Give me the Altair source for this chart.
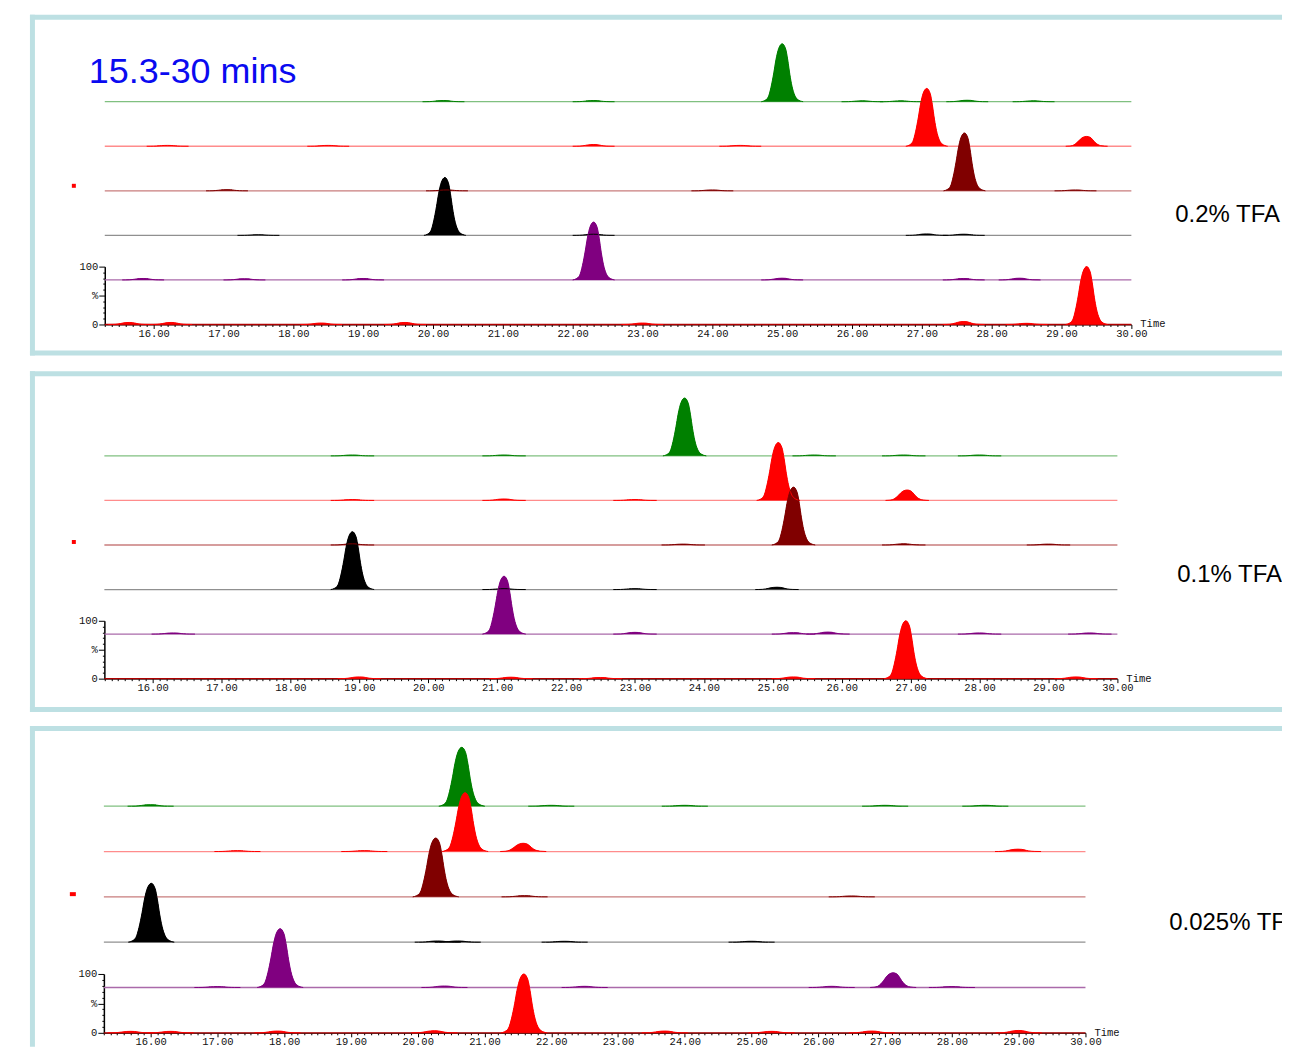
import altair as alt
import pandas as pd

# --- data ----------------------------------------------------------------
TRACE_NAMES = ["t0", "t1", "t2", "t3", "t4", "t5"]
TRACE_COLORS = ["#008000", "#ff0000", "#800000", "#000000", "#800080", "#ff0000"]
BASE_COLORS = ["#80c080", "#ff8c8c", "#c87c7c", "#909090", "#aa6aaa", "#b00000"]
OFFSETS = [385, 308, 231, 154, 77, 0]   # stacking offset of each trace, in %

# shape of one peak (minutes from apex, fraction of apex height)
PROFILE_T = [-0.30, -0.25, -0.20, -0.16, -0.12, -0.09, -0.05, 0.0,
             0.05, 0.08, 0.11, 0.14, 0.18, 0.22, 0.30]
PROFILE_H = [0.0, 0.02, 0.08, 0.25, 0.50, 0.72, 0.92, 1.0,
             0.91, 0.72, 0.47, 0.27, 0.11, 0.04, 0.0]

# 0.2% TFA
P1_TRACE = [0, 0, 0, 0, 0, 0, 0,
            1, 1, 1, 1, 1, 1,
            2, 2, 2, 2, 2,
            3, 3, 3, 3, 3,
            4, 4, 4, 4, 4, 4, 4,
            5, 5, 5, 5, 5, 5, 5, 5]
P1_RT = [25.00, 20.15, 22.30, 26.15, 26.70, 27.65, 28.60,
         27.07, 29.36, 22.30, 16.20, 18.50, 24.40,
         27.61, 17.05, 20.20, 24.00, 29.20,
         20.17, 22.30, 27.07, 27.60, 17.50,
         22.30, 15.85, 17.30, 19.00, 25.00, 27.60, 28.40,
         29.36, 15.65, 16.25, 18.40, 19.60, 23.00, 27.60, 28.50]
P1_HT = [100, 2, 2, 1.5, 1.5, 2.5, 1.5,
         100, 17, 3, 1.5, 1.5, 1.5,
         100, 2, 1.5, 1.5, 1.5,
         100, 2, 2.5, 2, 1,
         100, 2.5, 2, 2.5, 3, 2.5, 3,
         100, 3.5, 3.5, 2.5, 3.5, 2.5, 5, 2]

# 0.1% TFA
P2_TRACE = [0, 0, 0, 0, 0, 0,
            1, 1, 1, 1, 1,
            2, 2, 2, 2, 2,
            3, 3, 3, 3,
            4, 4, 4, 4, 4, 4, 4,
            5, 5, 5, 5, 5, 5]
P2_RT = [23.72, 18.90, 21.10, 25.60, 26.90, 28.00,
         25.08, 26.95, 21.10, 18.90, 23.00,
         25.30, 18.90, 23.70, 26.90, 29.00,
         18.90, 25.06, 21.10, 23.00,
         21.10, 16.30, 23.00, 25.30, 25.80, 28.00, 29.60,
         26.93, 19.00, 21.20, 22.50, 25.30, 29.40]
P2_HT = [100, 1.5, 1.5, 1.5, 1.5, 1.5,
         100, 18, 2.5, 1.5, 1.5,
         100, 2, 1.5, 2, 1.5,
         100, 4, 1.5, 1.5,
         100, 2, 3, 2.5, 3.5, 2, 2,
         100, 3, 2.5, 2, 3, 3]

# 0.025% TFA
P3_TRACE = [0, 0, 0, 0, 0, 0,
            1, 1, 1, 1, 1,
            2, 2, 2,
            3, 3, 3, 3, 3,
            4, 4, 4, 4, 4, 4, 4,
            5, 5, 5, 5, 5, 5, 5, 5, 5]
P3_RT = [20.66, 16.00, 22.00, 24.00, 27.00, 28.50,
         20.71, 21.58, 28.99, 17.30, 19.20,
         20.27, 21.60, 26.50,
         16.01, 20.30, 20.60, 22.20, 25.00,
         17.94, 27.12, 17.00, 20.40, 22.50, 26.20, 28.00,
         21.59, 15.70, 16.30, 17.90, 20.25, 23.70, 25.30, 26.80, 29.00]
P3_HT = [100, 2.5, 1.5, 1.5, 1.5, 1.5,
         100, 14, 4, 1.5, 1.5,
         100, 2, 1.5,
         100, 2, 2, 1.5, 1.5,
         100, 25, 1.5, 2.5, 2, 2, 1.5,
         100, 2.5, 2.5, 3, 3.5, 3, 2.5, 3, 4]

PEAK_WIDTH = [1.0, 1.05, 1.15]
LABELS = ["0.2% TFA", "0.1% TFA", "0.025% TFA"]
X_TICKS = [round(15.3 + 0.1 * i, 1) for i in range(148)]
Y_TICKS = [0, 10, 20, 30, 40, 50, 60, 70, 80, 90, 100]

# --- layout (pixels inside each panel) -----------------------------------
W = 1277
PANEL_H = [356, 356, 328]
X_RANGE = [[97, 1126], [96.6, 1112], [96.1, 1080]]
Y_RANGE = [[316, 258], [315, 257], [314, 255]]
BOX = [(24.5, 8, 344.5), (24.5, 9.5, 346), (24.5, 9, None)]
LABEL_POS = [(1170, 213), (1172, 218), (1164, 211)]
SQUARE = [(64, 175, 4, 4), (64, 176, 4, 4), (62, 173, 6, 4)]
BORDER = "#bde0e3"
BIG_FONT = "Liberation Sans, Arial, sans-serif"
SMALL_FONT = "Liberation Mono, DejaVu Sans Mono, monospace"


def peak_table(traces, rts, hts, width):
    rows = []
    for pid, (tr, rt, ht) in enumerate(zip(traces, rts, hts)):
        for dt, frac in zip(PROFILE_T, PROFILE_H):
            rows.append({"pid": pid, "trace": TRACE_NAMES[tr],
                         "t": rt + dt * width,
                         "v": OFFSETS[tr] + ht * frac,
                         "base": OFFSETS[tr]})
    return pd.DataFrame(rows)


def panel(k, traces, rts, hts):
    H = PANEL_H[k]
    xscale = alt.Scale(domain=[15.3, 30], range=X_RANGE[k], nice=False, zero=False)
    yscale = alt.Scale(domain=[0, 100], range=Y_RANGE[k], nice=False, zero=False)
    is_int = "abs(datum.value - round(datum.value)) < 0.01"
    xaxis = alt.Axis(
        values=X_TICKS, title=None, grid=False, labelFlush=False, labelOverlap=False,
        labelExpr=f"{is_int} ? format(datum.value, '.2f') : ''",
        tickSize={"condition": {"test": is_int, "value": 4}, "value": 2},
        offset=-(H - Y_RANGE[k][0]), labelPadding=0,
        labelFont=SMALL_FONT, labelFontSize=10.5, labelColor="#111",
        domainColor="#000", tickColor="#000", domainWidth=1, tickWidth=1,
    )
    y_major = "datum.value == 0 || datum.value == 50 || datum.value == 100"
    yaxis = alt.Axis(
        values=Y_TICKS, title=None, grid=False, labelOverlap=False,
        labelExpr="datum.value == 0 ? '0' : datum.value == 50 ? '%' : datum.value == 100 ? '100' : ''",
        tickSize={"condition": {"test": y_major, "value": 6}, "value": 2},
        offset=-X_RANGE[k][0], labelPadding=1,
        labelFont=SMALL_FONT, labelFontSize=10.5, labelColor="#111",
        domainColor="#000", tickColor="#000", domainWidth=1.5, tickWidth=1,
    )

    peaks = peak_table(traces, rts, hts, PEAK_WIDTH[k])
    bases = pd.DataFrame({"trace": TRACE_NAMES, "base": OFFSETS})

    area = alt.Chart(peaks).mark_area(interpolate="monotone").encode(
        x=alt.X("t:Q", scale=xscale, axis=xaxis),
        y=alt.Y("v:Q", scale=yscale, axis=yaxis),
        y2="base:Q",
        fill=alt.Fill("trace:N", scale=alt.Scale(domain=TRACE_NAMES, range=TRACE_COLORS),
                      legend=None),
        detail="pid:N",
    )
    outline = alt.Chart(peaks).mark_line(interpolate="monotone", strokeWidth=1).encode(
        x=alt.X("t:Q", scale=xscale, axis=xaxis),
        y=alt.Y("v:Q", scale=yscale, axis=yaxis),
        color=alt.Color("trace:N", scale=alt.Scale(domain=TRACE_NAMES, range=TRACE_COLORS),
                        legend=None),
        detail="pid:N",
    )
    baseline = alt.Chart(bases).mark_rule(strokeWidth=1.3).encode(
        x=alt.X(datum=15.3, scale=xscale, axis=xaxis),
        x2=alt.X2(datum=30),
        y=alt.Y("base:Q", scale=yscale, axis=yaxis),
        stroke=alt.Stroke("trace:N", scale=alt.Scale(domain=TRACE_NAMES, range=BASE_COLORS),
                          legend=None),
    )
    time_lbl = alt.Chart().mark_text(
        text="Time", align="left", baseline="middle", dx=9,
        font=SMALL_FONT, fontSize=10.5, color="#111",
    ).encode(x=alt.X(datum=30, scale=xscale, axis=xaxis),
             y=alt.Y(datum=0, scale=yscale, axis=yaxis))

    left, top, bottom = BOX[k]
    box = [
        alt.Chart().mark_rule(color=BORDER, strokeWidth=5).encode(
            x=alt.value(left - 2.5), x2=alt.value(W), y=alt.value(top)),
        alt.Chart().mark_rule(color=BORDER, strokeWidth=5).encode(
            x=alt.value(left), y=alt.value(top - 2.5),
            y2=alt.value(H if bottom is None else bottom + 2.5)),
    ]
    if bottom is not None:
        box.append(alt.Chart().mark_rule(color=BORDER, strokeWidth=5).encode(
            x=alt.value(left - 2.5), x2=alt.value(W), y=alt.value(bottom)))

    lx, ly = LABEL_POS[k]
    label = alt.Chart().mark_text(
        text=LABELS[k], align="left", baseline="alphabetic",
        font=BIG_FONT, fontSize=24, color="#000", clip=True,
    ).encode(x=alt.value(lx), y=alt.value(ly))

    sx, sy, sw, sh = SQUARE[k]
    square = alt.Chart().mark_rect(color="#ff0000").encode(
        x=alt.value(sx), x2=alt.value(sx + sw), y=alt.value(sy), y2=alt.value(sy + sh))

    layers = [area] + box + [baseline, area, outline, time_lbl, label, square]
    if k == 0:
        layers.append(alt.Chart().mark_text(
            text="15.3-30 mins", align="left", baseline="alphabetic",
            font=BIG_FONT, fontSize=36, color="#0a0af0",
        ).encode(x=alt.value(81), y=alt.value(74)))

    return alt.layer(*layers).properties(width=W, height=H)


p1 = panel(0, P1_TRACE, P1_RT, P1_HT)
p2 = panel(1, P2_TRACE, P2_RT, P2_HT)
p3 = panel(2, P3_TRACE, P3_RT, P3_HT)

chart = alt.vconcat(p1, p2, p3, spacing=0, padding=0).configure_view(strokeWidth=0)

chart.save("out.html", embed_options={"renderer": "svg", "actions": False})
